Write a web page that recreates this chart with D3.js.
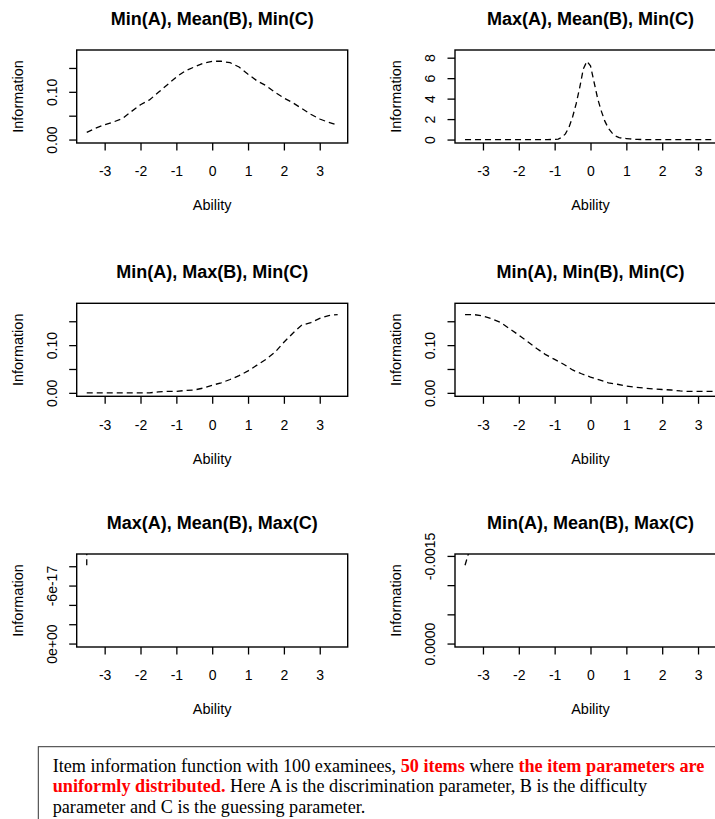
<!DOCTYPE html>
<html>
<head>
<meta charset="utf-8">
<script src="https://cdn.jsdelivr.net/npm/d3@7"></script>
<style>
  body { margin: 0; background: #fff; }
  svg { display: block; }
  .plot text { font-family: "Liberation Sans", Arial, sans-serif; fill: #000; }
  .caption text { font-family: "Liberation Serif", "Times New Roman", serif; white-space: pre; }
</style>
</head>
<body>
<svg id="chart" width="715" height="819"></svg>
<script>
// Ability grid used by the smooth panels
const theta = [-3.5, -3.25, -3, -2.75, -2.5, -2.25, -2, -1.75, -1.5, -1.25, -1, -0.75, -0.5, -0.25,
               0, 0.25, 0.5, 0.75, 1, 1.25, 1.5, 1.75, 2, 2.25, 2.5, 2.75, 3, 3.25, 3.5];

// Min(A), Mean(B), Min(C)
const infoMinMeanMin = [0.015, 0.024, 0.031, 0.037, 0.044, 0.059, 0.073, 0.083, 0.099, 0.115, 0.131, 0.144,
                        0.152, 0.160, 0.164, 0.164, 0.161, 0.152, 0.137, 0.123, 0.113, 0.099, 0.087, 0.077,
                        0.065, 0.053, 0.043, 0.036, 0.030];

// Max(A), Mean(B), Min(C) -- finer grid round the peak
const thetaPeak = [-3.5, -3, -2.5, -2, -1.5, -1.2, -1, -0.9, -0.8, -0.7, -0.6, -0.5, -0.4, -0.3, -0.2, -0.1,
                   0, 0.1, 0.2, 0.3, 0.4, 0.5, 0.6, 0.7, 0.8, 0.9, 1, 1.1, 1.2, 1.3, 1.5, 2, 2.5, 3, 3.5];
const infoMaxMeanMin = [0, 0, 0, 0, 0, 0, 0.01, 0.05, 0.22, 0.55, 1.2, 2.2, 3.5, 5.1, 6.9, 7.65,
                        7.2, 5.6, 4.0, 2.8, 1.8, 1.1, 0.65, 0.35, 0.2, 0.12, 0.1, 0.07, 0.03, 0.01, 0, 0, 0, 0, 0];

// Min(A), Max(B), Min(C)
const infoMinMaxMin = [0, 0, 0, 0, 0, 0, 0, 0, 0.002, 0.003, 0.003, 0.005, 0.006, 0.010, 0.016, 0.021, 0.028,
                       0.036, 0.046, 0.058, 0.070, 0.085, 0.106, 0.125, 0.142, 0.147, 0.156, 0.162, 0.164];

// Min(A), Min(B), Min(C)
const infoMinMinMin = [0.164, 0.164, 0.161, 0.155, 0.147, 0.134, 0.121, 0.107, 0.093, 0.080, 0.070, 0.060,
                       0.048, 0.040, 0.033, 0.027, 0.021, 0.018, 0.014, 0.012, 0.010, 0.008, 0.007, 0.006,
                       0.004, 0.003, 0.003, 0.003, 0.003];

// Max(C) panels: only the first value is in range, the rest run off the top
const thetaEdge = [-3.5, -3.25];
const infoMaxMeanMax = [-8.1e-17, -3.2e-15];
const infoMinMeanMax = [-0.00134, -0.00186];

const titles = ["Min(A), Mean(B), Min(C)", "Max(A), Mean(B), Min(C)",
                "Min(A), Max(B), Min(C)", "Min(A), Min(B), Min(C)",
                "Max(A), Mean(B), Max(C)", "Min(A), Mean(B), Max(C)"];

const xTicks = [-3, -2, -1, 0, 1, 2, 3];

// y ticks per panel, and the labels R kept ("" = label dropped)
const yTicksSmall = [0, 0.05, 0.10, 0.15];
const yLabelsSmall = ["0.00", "", "0.10", ""];
const yTicksPeak = [0, 2, 4, 6, 8];
const yLabelsPeak = ["0", "2", "4", "6", "8"];
const yTicksTiny = [0, -2e-17, -4e-17, -6e-17, -8e-17];
const yLabelsTiny = ["0e+00", "", "", "-6e-17", ""];
const yTicksNeg = [0, -0.0005, -0.0010, -0.0015];
const yLabelsNeg = ["0.0000", "", "", "-0.0015"];

const panels = [
  {title: titles[0], x: theta, y: infoMinMeanMin, ticks: yTicksSmall, labels: yLabelsSmall},
  {title: titles[1], x: thetaPeak, y: infoMaxMeanMin, ticks: yTicksPeak, labels: yLabelsPeak},
  {title: titles[2], x: theta, y: infoMinMaxMin, ticks: yTicksSmall, labels: yLabelsSmall},
  {title: titles[3], x: theta, y: infoMinMinMin, ticks: yTicksSmall, labels: yLabelsSmall},
  {title: titles[4], x: thetaEdge, y: infoMaxMeanMax, ticks: yTicksTiny, labels: yLabelsTiny},
  {title: titles[5], x: thetaEdge, y: infoMinMeanMax, ticks: yTicksNeg, labels: yLabelsNeg}
];

// Layout
const W = 271, H = 93;
const colLeft = [76.7, 455];
const rowTop = [50, 303.3, 554];

const svg = d3.select("#chart");
svg.append("rect").attr("width", 715).attr("height", 819).attr("fill", "#fff");

// x range as R does it: data range plus 4% each side
const xMin = d3.min(theta), xMax = d3.max(theta);
const xPad = (xMax - xMin) * 0.04;
const x = d3.scaleLinear().domain([xMin - xPad, xMax + xPad]).range([0, W]);

panels.forEach((p, i) => {
  const g = svg.append("g")
      .attr("class", "plot")
      .attr("transform", `translate(${colLeft[i % 2]},${rowTop[Math.floor(i / 2)]})`);

  // ylim = c(0, 1.1 * max), then the 4% extension
  const top = 1.1 * d3.max(p.y);
  const y = d3.scaleLinear().domain([-0.04 * top, 1.04 * top]).range([H, 0]);

  g.append("clipPath").attr("id", "clip" + i)
    .append("rect").attr("width", W).attr("height", H);

  const line = d3.line()
      .x((d, j) => x(p.x[j]))
      .y(d => y(d));

  g.append("path")
      .datum(p.y)
      .attr("clip-path", `url(#clip${i})`)
      .attr("fill", "none")
      .attr("stroke", "#000")
      .attr("stroke-width", 1.3)
      .attr("stroke-dasharray", "6,4")
      .attr("d", line);

  // x axis (plain hyphen minus, as R prints it)
  const gx = g.append("g")
      .attr("transform", `translate(0,${H})`)
      .call(d3.axisBottom(x).tickValues(xTicks).tickSize(7.5).tickPadding(16).tickFormat(d => String(d)));
  gx.select(".domain").remove();
  gx.selectAll(".tick line").attr("stroke", "#000").attr("stroke-width", 1.3);
  gx.selectAll(".tick text").attr("font-size", 14).attr("fill", "#000")
      .attr("font-family", "Liberation Sans, Arial, sans-serif");

  // y axis, labels rotated like R's las = 0
  const gy = g.append("g")
      .call(d3.axisLeft(y).tickValues(p.ticks).tickSize(7.5).tickFormat((d, j) => p.labels[j]));
  gy.select(".domain").remove();
  gy.selectAll(".tick line").attr("stroke", "#000").attr("stroke-width", 1.3);
  gy.selectAll(".tick text")
      .attr("x", 0).attr("dy", 0)
      .attr("transform", "translate(-20,0) rotate(-90)")
      .attr("text-anchor", "middle")
      .attr("font-size", 14).attr("fill", "#000")
      .attr("font-family", "Liberation Sans, Arial, sans-serif");

  // plot box
  g.append("rect")
      .attr("width", W).attr("height", H)
      .attr("fill", "none").attr("stroke", "#000").attr("stroke-width", 1.4);

  g.append("text")
      .attr("x", W / 2).attr("y", -25)
      .attr("text-anchor", "middle")
      .attr("font-size", 18).attr("font-weight", "bold")
      .text(p.title);

  g.append("text")
      .attr("x", W / 2).attr("y", H + 67.4)
      .attr("text-anchor", "middle")
      .attr("font-size", 14.5)
      .text("Ability");

  g.append("text")
      .attr("transform", `translate(-53.7,${H / 2}) rotate(-90)`)
      .attr("text-anchor", "middle")
      .attr("font-size", 14.5)
      .text("Information");
});

// Caption box
const captionLines = [
  [["Item information function with 100 examinees, ", false], ["50 items", true], [" where ", false],
   ["the item parameters are", true]],
  [["uniformly distributed.", true], [" Here A is the discrimination parameter, B is the difficulty", false]],
  [["parameter and C is the guessing parameter.", false]]
];

const cap = svg.append("g").attr("class", "caption");
cap.append("rect")
    .attr("x", 38.3).attr("y", 746.7)
    .attr("width", 720).attr("height", 120)
    .attr("fill", "none").attr("stroke", "#333").attr("stroke-width", 1);

let fontSize = 17;
const texts = captionLines.map((segs, k) => {
  const t = cap.append("text")
      .attr("x", 52.7).attr("y", 771.5 + k * 20.5)
      .attr("font-size", fontSize);
  segs.forEach(([s, red]) => {
    t.append("tspan")
        .attr("fill", red ? "#ff0000" : "#000")
        .attr("font-weight", red ? "bold" : "normal")
        .text(s);
  });
  return t;
});

// fit the first line to the width it has in the figure
const w0 = texts[0].node().getComputedTextLength();
fontSize = fontSize * (705 - 52.7) / w0;
texts.forEach(t => t.attr("font-size", fontSize));
</script>
</body>
</html>
